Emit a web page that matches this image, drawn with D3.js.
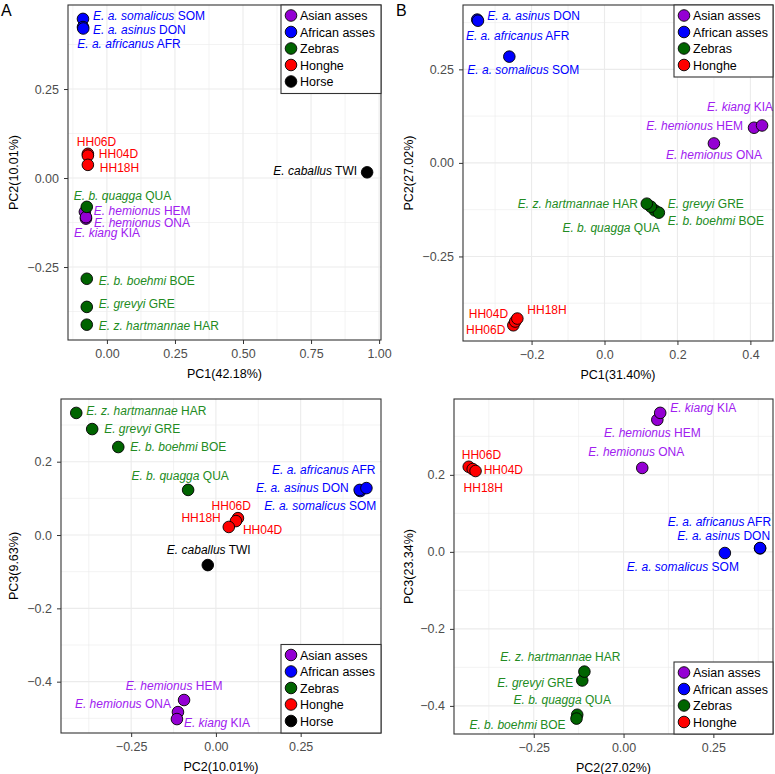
<!DOCTYPE html>
<html lang="en">
<meta charset="utf-8"/>
<head>
<style>
	body { margin: 0; background-color: #FFFFFF; }
	* { font-family: "Liberation Sans", Arial, sans-serif; }
	.tick text { fill: #4d4d4d; font-size: 12.5px; }
	.tick line { stroke: #333333; }
	.axis-title { font-size: 12.5px; fill: #000000; }
	.lab { font-size: 12px; }
	.leg-text { font-size: 12.5px; fill: #000000; }
	.letter { font-size: 16px; fill: #000000; }
</style>
</head>
<body>
<svg id="container" width="775" height="774"></svg>

<script src="https://d3js.org/d3.v7.min.js"></script>
<script>
	// sample order used by every value array below
	let samples = ["SOM","DON","AFR","HEM","ONA","KIA","QUA","BOE","GRE","HAR","HH06D","HH04D","HH18H","TWI"]
	let speciesNames = ["E. a. somalicus","E. a. asinus","E. a. africanus","E. hemionus","E. hemionus","E. kiang",
		"E. b. quagga","E. b. boehmi","E. grevyi","E. z. hartmannae","","","","E. caballus"]
	let groupOf = [1,1,1,0,0,0,2,2,2,2,3,3,3,4]
	let groupNames = ["Asian asses","African asses","Zebras","Honghe","Horse"]
	let groupFill = ["#9400D3","#0000FF","#006400","#FF0000","#000000"]
	let groupText = ["#A020F0","#0000FF","#228B22","#FF0000","#000000"]

	// A : with horse
	let pcaA_pc1 = [-0.088,-0.088,-0.087,-0.081,-0.077,-0.077,-0.074,-0.074,-0.074,-0.074,-0.070,-0.070,-0.070,0.956]
	let pcaA_pc2 = [0.447,0.424,0.420,-0.095,-0.114,-0.110,-0.081,-0.283,-0.362,-0.412,0.068,0.063,0.037,0.016]
	// B : without horse
	let pcaB_pc1 = [-0.261,-0.349,-0.347,0.410,0.300,0.432,0.138,0.149,0.127,0.116,-0.250,-0.245,-0.239]
	let pcaB_pc2 = [0.284,0.383,0.380,0.094,0.052,0.100,-0.127,-0.133,-0.117,-0.109,-0.434,-0.424,-0.416]
	// C : with horse, PC2 vs PC3
	let pcaC_pc2 = [0.426,0.424,0.444,-0.094,-0.112,-0.115,-0.082,-0.288,-0.365,-0.412,0.065,0.059,0.038,-0.024]
	let pcaC_pc3 = [0.120,0.123,0.128,-0.450,-0.483,-0.502,0.123,0.240,0.289,0.333,0.046,0.038,0.022,-0.082]
	// D : without horse, PC2 vs PC3
	let pcaD_pc2 = [0.282,0.380,0.380,0.094,0.052,0.102,-0.129,-0.131,-0.115,-0.109,-0.431,-0.420,-0.412]
	let pcaD_pc3 = [-0.003,0.009,0.010,0.343,0.218,0.361,-0.423,-0.433,-0.334,-0.311,0.221,0.215,0.210]

	// label nudges (px from point) like ggrepel placed them
	let nudgeA = [[10,1,"start"],[10,7,"start"],[-6,20,"start"],[9,3,"start"],[8,8,"start"],[-12,20,"start"],
		[-13,-7,"start"],[12,6,"start"],[12,1,"start"],[12,5,"start"],[-11,-8,"start"],[11,2,"start"],[12,7,"start"],[-10,3,"end"]]
	let nudgeB = [[-42,17,"start"],[10,0,"start"],[-12,19,"start"],[-11,2,"end"],[0,16,"middle"],[11,-14,"end"],
		[5,22,"end"],[9,12,"start"],[17,1,"start"],[-9,4,"end"],[-8,9,"end"],[-7,-4,"end"],[10,-5,"start"]]
	let nudgeC = [[16,19,"end"],[-11,2,"end"],[9,-14,"end"],[-10,-10,"middle"],[-7,-4,"end"],[7,8,"start"],
		[-8,-10,"middle"],[12,4,"start"],[12,4,"start"],[10,2,"start"],[13,-8,"end"],[7,13,"start"],[-8,-5,"end"],[1,-11,"middle"]]
	let nudgeD = [[-42,18,"middle"],[10,-8,"end"],[11,-22,"end"],[-5,17,"middle"],[-6,-12,"middle"],[10,-1,"start"],
		[-15,-11,"middle"],[-11,10,"end"],[-9,7,"end"],[-24,-11,"middle"],[-7,-8,"start"],[11,5,"start"],[-12,21,"start"]]

	let svg = d3.select("svg")

	let panels = [
		{letter:"A", x:pcaA_pc1, y:pcaA_pc2, nudge:nudgeA, box:[68,381,5,340],
			xdom:[-0.143,1.007], ydom:[-0.455,0.486], xt:[0,0.25,0.5,0.75,1], yt:[-0.25,0,0.25],
			xm:[-0.125,0.125,0.375,0.625,0.875], ym:[-0.375,-0.125,0.125,0.375], xf:".2f", yf:".2f",
			xlab:"PC1(42.18%)", ylab:"PC2(10.01%)", ytx:17.5, legTop:true, nGroups:5},
		{letter:"B", x:pcaB_pc1, y:pcaB_pc2, nudge:nudgeB, box:[463,773,5,341],
			xdom:[-0.388,0.462], ydom:[-0.476,0.422], xt:[-0.2,0,0.2,0.4], yt:[-0.25,0,0.25],
			xm:[-0.3,-0.1,0.1,0.3], ym:[-0.375,-0.125,0.125,0.375], xf:".1f", yf:".2f",
			xlab:"PC1(31.40%)", ylab:"PC2(27.02%)", ytx:412.5, legTop:true, nGroups:4},
		{letter:"", x:pcaC_pc2, y:pcaC_pc3, nudge:nudgeC, box:[61,381,399,733],
			xdom:[-0.457,0.487], ydom:[-0.540,0.371], xt:[-0.25,0,0.25], yt:[-0.4,-0.2,0,0.2],
			xm:[-0.375,-0.125,0.125,0.375], ym:[-0.5,-0.3,-0.1,0.1,0.3], xf:".2f", yf:".1f",
			xlab:"PC2(10.01%)", ylab:"PC3(9.63%)", ytx:17.5, legTop:false, nGroups:5},
		{letter:"", x:pcaD_pc2, y:pcaD_pc3, nudge:nudgeD, box:[454,773,399,734],
			xdom:[-0.472,0.416], ydom:[-0.473,0.397], xt:[-0.25,0,0.25], yt:[-0.4,-0.2,0,0.2],
			xm:[-0.375,-0.125,0.125,0.375], ym:[-0.3,-0.1,0.1,0.3], xf:".2f", yf:".1f",
			xlab:"PC2(27.02%)", ylab:"PC3(23.34%)", ytx:412.5, legTop:false, nGroups:4}
	]

	panels.forEach(p => drawPanel(p))

	function drawPanel(p){
		let [l, r, t, b] = p.box
		let xScale = d3.scaleLinear().domain(p.xdom).range([l, r])
		let yScale = d3.scaleLinear().domain(p.ydom).range([b, t])
		let g = svg.append("g")

		// grid, minor then major
		g.selectAll(".xminor").data(p.xm).enter().append("line")
			.attr("x1", d => xScale(d)).attr("x2", d => xScale(d)).attr("y1", t).attr("y2", b)
			.attr("stroke", "#ebebeb").attr("stroke-width", 0.6)
		g.selectAll(".yminor").data(p.ym).enter().append("line")
			.attr("y1", d => yScale(d)).attr("y2", d => yScale(d)).attr("x1", l).attr("x2", r)
			.attr("stroke", "#ebebeb").attr("stroke-width", 0.6)
		g.selectAll(".xmajor").data(p.xt).enter().append("line")
			.attr("x1", d => xScale(d)).attr("x2", d => xScale(d)).attr("y1", t).attr("y2", b)
			.attr("stroke", "#ebebeb").attr("stroke-width", 1.1)
		g.selectAll(".ymajor").data(p.yt).enter().append("line")
			.attr("y1", d => yScale(d)).attr("y2", d => yScale(d)).attr("x1", l).attr("x2", r)
			.attr("stroke", "#ebebeb").attr("stroke-width", 1.1)

		// axes
		let xAxis = g.append("g").attr("transform", "translate(0," + b + ")")
			.call(d3.axisBottom(xScale).tickValues(p.xt).tickFormat(d3.format(p.xf)).tickSize(4).tickPadding(5))
		let yAxis = g.append("g").attr("transform", "translate(" + l + ",0)")
			.call(d3.axisLeft(yScale).tickValues(p.yt).tickFormat(d3.format(p.yf)).tickSize(4).tickPadding(5))
		xAxis.select(".domain").remove()
		yAxis.select(".domain").remove()
		g.selectAll(".tick text").attr("font-family", null).attr("font-size", null)

		g.append("text").attr("class", "axis-title")
			.attr("x", (l + r) / 2).attr("y", b + 37.5).attr("text-anchor", "middle").text(p.xlab)
		g.append("text").attr("class", "axis-title")
			.attr("transform", "translate(" + p.ytx + "," + ((t + b) / 2) + ") rotate(-90)")
			.attr("text-anchor", "middle").text(p.ylab)

		// points
		let idx = d3.range(p.x.length)
		g.selectAll("circle.pt").data(idx).enter().append("circle")
			.attr("class", "pt")
			.attr("cx", i => xScale(p.x[i])).attr("cy", i => yScale(p.y[i])).attr("r", 5.8)
			.attr("fill", i => groupFill[groupOf[i]]).attr("stroke", "#000").attr("stroke-width", 0.9)

		// labels
		let labs = g.selectAll("text.lab").data(idx).enter().append("text")
			.attr("class", "lab")
			.attr("x", i => xScale(p.x[i]) + p.nudge[i][0])
			.attr("y", i => yScale(p.y[i]) + p.nudge[i][1])
			.attr("text-anchor", i => p.nudge[i][2])
			.attr("fill", i => groupText[groupOf[i]])
		labs.each(function(i){
			let el = d3.select(this)
			if (speciesNames[i] != "") {
				el.append("tspan").attr("font-style", "italic").text(speciesNames[i])
				el.append("tspan").text(" " + samples[i])
			} else {
				el.append("tspan").text(samples[i])
			}
		})

		// panel border
		g.append("rect").attr("x", l).attr("y", t).attr("width", r - l).attr("height", b - t)
			.attr("fill", "none").attr("stroke", "#333333").attr("stroke-width", 1.1)

		// legend
		let legW = r - (l + (r - l)) + 100
		let legH = p.nGroups * 16.5 + 6
		let lx = r - (p.nGroups == 5 ? 100 : 99)
		let ly = p.legTop ? t : b - legH
		let leg = g.append("g").attr("transform", "translate(" + lx + "," + ly + ")")
		leg.append("rect").attr("width", r - lx).attr("height", legH)
			.attr("fill", "#fff").attr("stroke", "#333333").attr("stroke-width", 1.1)
		let items = leg.selectAll("g.item").data(groupNames.slice(0, p.nGroups)).enter().append("g")
			.attr("transform", (d, i) => "translate(0," + (10.5 + i * 16.5) + ")")
		items.append("circle").attr("cx", 10).attr("r", 5.8)
			.attr("fill", (d, i) => groupFill[i]).attr("stroke", "#000").attr("stroke-width", 0.9)
		items.append("text").attr("class", "leg-text").attr("x", 19).attr("y", 4.5).text(d => d)

		if (p.letter != "") {
			svg.append("text").attr("class", "letter").attr("x", l - 67).attr("y", 16).text(p.letter)
		}
	}
</script>
</html>
